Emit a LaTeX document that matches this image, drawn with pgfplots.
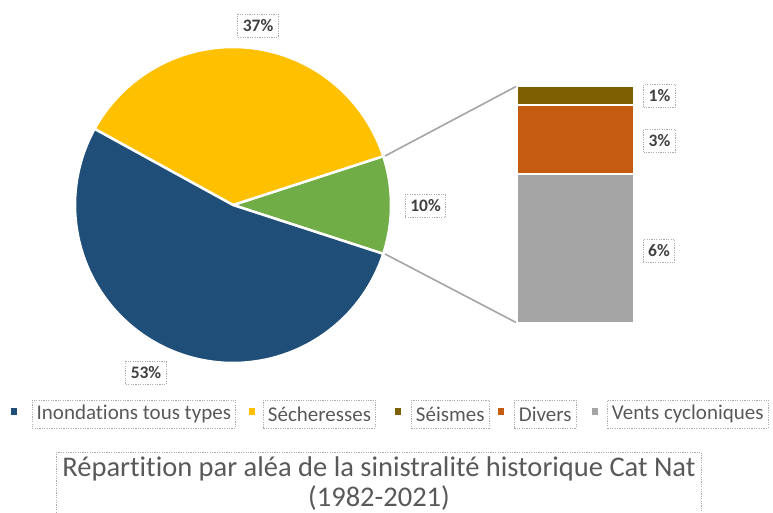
\documentclass[border=0pt]{standalone}
\usepackage{pgfplots}
\pgfplotsset{compat=1.18}
\usepackage{fontspec}
\setmainfont{Carlito}[Ligatures=CommonOff]

\definecolor{cInond}{HTML}{1F4E79}
\definecolor{cSech}{HTML}{FFC000}
\definecolor{cAutres}{HTML}{70AD47}
\definecolor{cSeis}{HTML}{7F6000}
\definecolor{cDivers}{HTML}{C55A11}
\definecolor{cVents}{HTML}{A5A5A5}
\definecolor{txt}{HTML}{595959}
\definecolor{lbl}{HTML}{404040}

% parts of the pie, in %
\def\pInond{53}
\def\pSech{37}
\def\pAutres{10}

\tikzset{
  box/.style={draw=gray!65, dash pattern=on 1.2pt off 1.2pt, line width=0.9pt},
  lab/.style={box, text=lbl, font=\fontsize{17.5}{20}\selectfont\bfseries, inner xsep=5pt, minimum height=23pt},
  leg/.style={box, text=txt, font=\fontsize{21}{25}\selectfont, inner xsep=4.5pt, minimum height=28pt, anchor=west},
}

\begin{document}
\begin{tikzpicture}
\useasboundingbox (0,0) rectangle (773pt,513pt);
\begin{axis}[
    at={(0,0)}, anchor=south west,
    x=1pt, y=1pt,
    xmin=0, xmax=773, ymin=0, ymax=513,
    hide axis, clip=false,
]
% pie, angles from the shares
\addplot[fill=cAutres, draw=white, line width=2.5pt, domain=-\pAutres*1.8:\pAutres*1.8, samples=30]
  ({233+158*cos(x)},{308+158*sin(x)}) -- (axis cs:233,308) -- cycle;
\addplot[fill=cSech, draw=white, line width=2.5pt, domain=\pAutres*1.8:\pAutres*1.8+\pSech*3.6, samples=60]
  ({233+158*cos(x)},{308+158*sin(x)}) -- (axis cs:233,308) -- cycle;
\addplot[fill=cInond, draw=white, line width=2.5pt, domain=\pAutres*1.8+\pSech*3.6:360-\pAutres*1.8, samples=90]
  ({233+158*cos(x)},{308+158*sin(x)}) -- (axis cs:233,308) -- cycle;

% connector lines to the bar
\draw[color=cVents, line width=1.6pt] (axis cs:385,357) -- (axis cs:517,427);
\draw[color=cVents, line width=1.6pt] (axis cs:385,259) -- (axis cs:517,190);

% data labels
\node[lab] at (axis cs:258,487.5) {37\%};
\node[lab] at (axis cs:425.5,307) {10\%};
\node[lab] at (axis cs:146,140) {53\%};
\node[lab] at (axis cs:659.5,417) {1\%};
\node[lab] at (axis cs:659.5,372) {3\%};
\node[lab] at (axis cs:659,262) {6\%};

% legend
\fill[cInond]  (axis cs:11,98) rectangle (axis cs:17,105);
\node[leg] at (axis cs:31.7,99) {Inondations tous types};
\fill[cSech]   (axis cs:249,98) rectangle (axis cs:255,105);
\node[leg] at (axis cs:263,99) {Sécheresses};
\fill[cSeis]   (axis cs:395,98) rectangle (axis cs:401,105);
\node[leg] at (axis cs:411,99) {Séismes};
\fill[cDivers] (axis cs:498,98) rectangle (axis cs:504,105);
\node[leg] at (axis cs:514,99) {Divers};
\fill[cVents]  (axis cs:592,98) rectangle (axis cs:598,105);
\node[leg] at (axis cs:607,99) {Vents cycloniques};

% title
\node[box, text=txt, anchor=north, align=center, inner xsep=6pt, inner ysep=4pt,
      font=\fontsize{28.5}{30}\selectfont] at (axis cs:379,61)
  {Répartition par aléa de la sinistralité historique Cat Nat\\(1982-2021)};
\end{axis}

% bar of pie: the 10 % split
\begin{axis}[
    at={(517pt,190pt)}, anchor=south west,
    scale only axis, width=117pt, height=237pt,
    xmin=-0.5, xmax=0.5, ymin=0, ymax=10,
    hide axis, clip=false,
    ybar stacked, bar width=117pt,
]
\addplot[fill=cVents, draw=white, line width=2pt] coordinates {(0,6.3)};
\addplot[fill=cDivers, draw=white, line width=2pt] coordinates {(0,2.9)};
\addplot[fill=cSeis, draw=white, line width=2pt] coordinates {(0,0.8)};
\end{axis}
\end{tikzpicture}
\end{document}
